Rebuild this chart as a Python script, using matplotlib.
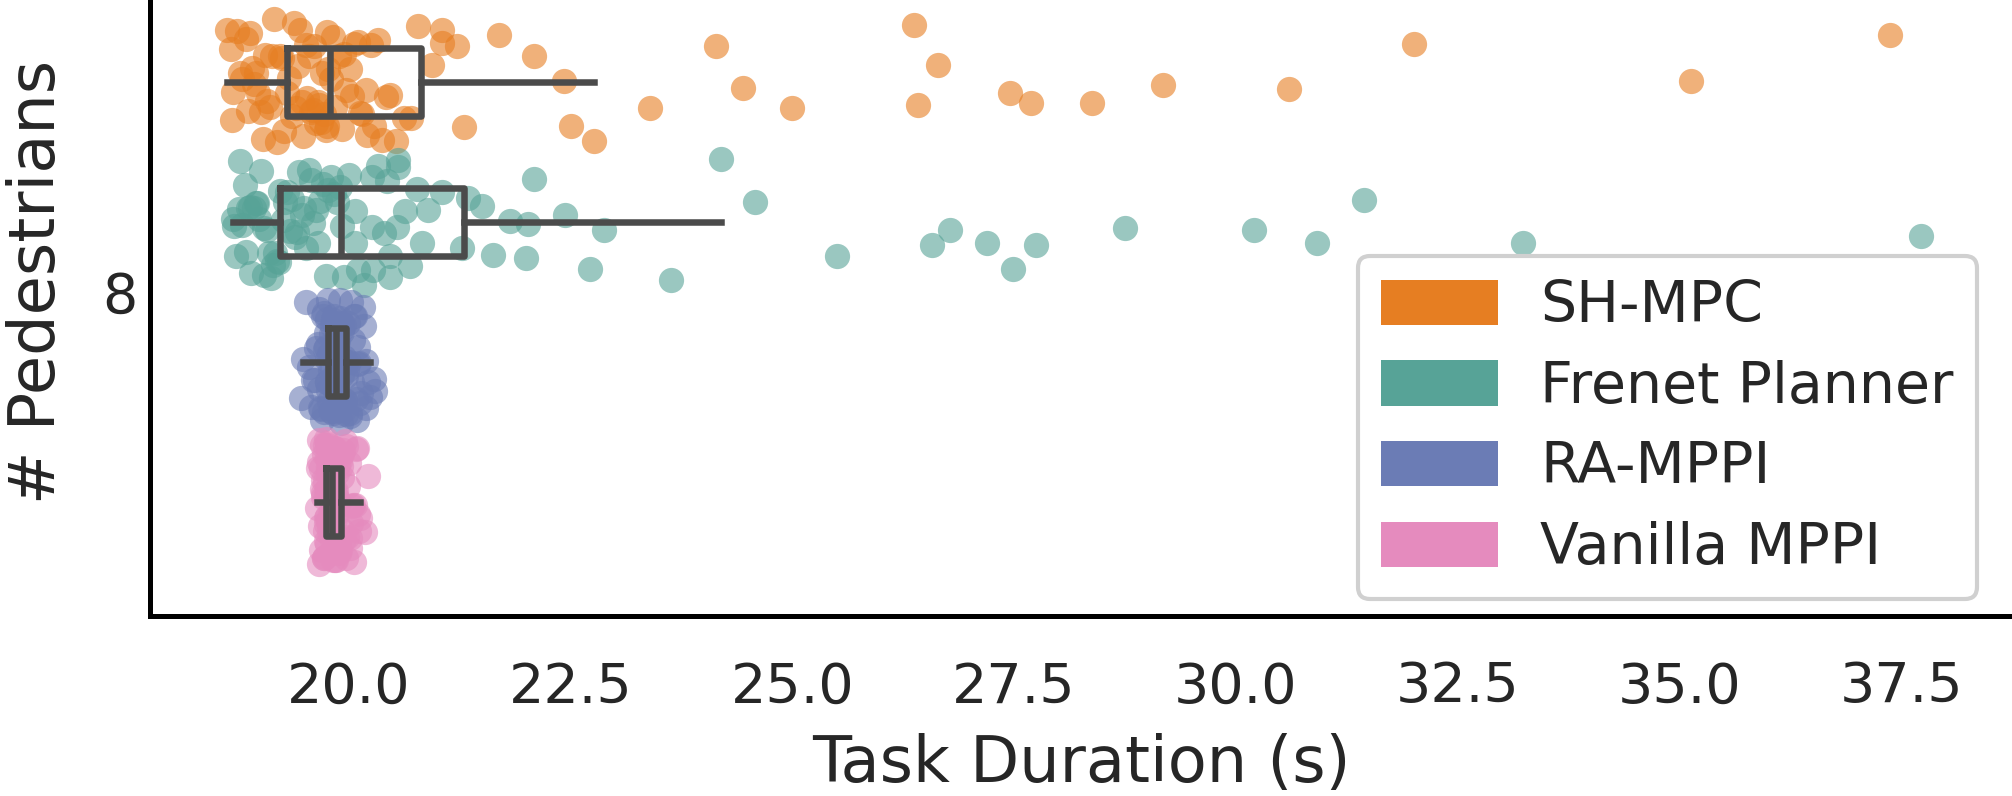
import numpy as np
import matplotlib
matplotlib.use("Agg")
import matplotlib.pyplot as plt
from matplotlib.patches import Patch
from matplotlib.ticker import MultipleLocator, FormatStrFormatter

# ---------------- data ----------------
methods = ["SH-MPC", "Frenet Planner", "RA-MPPI", "Vanilla MPPI"]
category_label = "8"
x_label = "Task Duration (s)"
y_label = "# Pedestrians"

sh_mpc = [18.63, 18.67, 18.69, 18.70, 18.74, 18.77, 18.80, 18.84, 18.86, 18.89,
          18.91, 18.93, 18.95, 18.98, 19.01, 19.03, 19.06, 19.08, 19.11, 19.14,
          19.16, 19.19, 19.22, 19.25, 19.27,
          19.31, 19.33, 19.36, 19.38, 19.41, 19.43, 19.45, 19.47, 19.49, 19.52,
          19.53, 19.55, 19.58, 19.60, 19.61, 19.63, 19.65, 19.67, 19.69, 19.70,
          19.72, 19.74, 19.75, 19.76, 19.77,
          19.80, 19.82, 19.85, 19.89, 19.92, 19.95, 19.97, 20.01, 20.04, 20.06,
          20.10, 20.13, 20.15, 20.19, 20.21, 20.25, 20.29, 20.33, 20.38, 20.42,
          20.46, 20.53, 20.62, 20.70, 20.78,
          20.94, 21.05, 21.05, 21.22, 21.30, 21.69, 22.09, 22.43, 22.51, 22.76,
          23.40, 24.14, 24.45, 25.00, 26.37, 26.42, 26.64, 27.46, 27.69, 28.38,
          29.18, 30.60, 32.01, 35.13, 37.37]

frenet = [18.70, 18.71, 18.73, 18.76, 18.77, 18.80, 18.83, 18.84, 18.87, 18.89,
          18.90, 18.93, 18.95, 18.97, 18.99, 19.01, 19.04, 19.05, 19.08, 19.10,
          19.12, 19.15, 19.17, 19.19, 19.21,
          19.23, 19.26, 19.28, 19.31, 19.34, 19.36, 19.39, 19.42, 19.44, 19.47,
          19.50, 19.52, 19.55, 19.57, 19.60, 19.63, 19.65, 19.68, 19.71, 19.74,
          19.77, 19.80, 19.83, 19.87, 19.90,
          19.93, 19.95, 20.00, 20.07, 20.07, 20.11, 20.17, 20.26, 20.26, 20.27,
          20.33, 20.40, 20.43, 20.46, 20.47, 20.55, 20.56, 20.56, 20.63, 20.69,
          20.77, 20.83, 20.89, 21.05, 21.28,
          21.35, 21.50, 21.63, 21.82, 22.00, 22.02, 22.09, 22.44, 22.72, 22.88,
          23.63, 24.20, 24.58, 25.50, 26.57, 26.78, 27.20, 27.49, 27.75, 28.75,
          30.21, 30.91, 31.44, 33.24, 37.72]

ra_mppi = [19.46, 19.48, 19.52, 19.55, 19.58, 19.60, 19.62, 19.63, 19.65, 19.66,
           19.67, 19.68, 19.69, 19.70, 19.71, 19.72, 19.72, 19.73, 19.74, 19.74,
           19.75, 19.75, 19.76, 19.76, 19.77,
           19.77, 19.78, 19.78, 19.79, 19.79, 19.80, 19.80, 19.81, 19.81, 19.82,
           19.82, 19.82, 19.83, 19.83, 19.84, 19.84, 19.84, 19.85, 19.85, 19.85,
           19.86, 19.86, 19.86, 19.86, 19.86,
           19.86, 19.87, 19.87, 19.88, 19.88, 19.89, 19.89, 19.90, 19.90, 19.91,
           19.91, 19.92, 19.92, 19.93, 19.93, 19.94, 19.94, 19.95, 19.95, 19.95,
           19.96, 19.96, 19.97, 19.97, 19.97,
           19.98, 19.99, 20.00, 20.01, 20.02, 20.03, 20.04, 20.05, 20.06, 20.07,
           20.08, 20.09, 20.10, 20.11, 20.12, 20.13, 20.14, 20.16, 20.17, 20.19,
           20.20, 20.22, 20.24, 20.28, 20.30]

vanilla_mppi = [19.64, 19.65, 19.66, 19.67, 19.67, 19.68, 19.69, 19.69, 19.70, 19.70,
                19.71, 19.71, 19.71, 19.72, 19.72, 19.72, 19.73, 19.73, 19.73, 19.73,
                19.74, 19.74, 19.74, 19.74, 19.74,
                19.75, 19.75, 19.75, 19.76, 19.76, 19.76, 19.77, 19.77, 19.77, 19.77,
                19.78, 19.78, 19.78, 19.78, 19.79, 19.79, 19.79, 19.79, 19.80, 19.80,
                19.80, 19.80, 19.80, 19.81, 19.81,
                19.81, 19.82, 19.82, 19.83, 19.83, 19.83, 19.84, 19.84, 19.85, 19.85,
                19.85, 19.86, 19.86, 19.87, 19.87, 19.87, 19.88, 19.88, 19.89, 19.89,
                19.89, 19.90, 19.90, 19.91, 19.91,
                19.92, 19.93, 19.93, 19.94, 19.95, 19.96, 19.97, 19.97, 19.98, 19.99,
                20.00, 20.01, 20.02, 20.03, 20.04, 20.05, 20.06, 20.07, 20.08, 20.09,
                20.10, 20.12, 20.13, 20.18, 20.22]

groups = [sh_mpc, frenet, ra_mppi, vanilla_mppi]

# ---------------- style ----------------
colors = ["#E67E22", "#57A397", "#6B7CB5", "#E58BBE"]
box_color = "#4B4B4B"
text_color = "#262626"
dodge_pos = [-0.3, -0.1, 0.1, 0.3]
box_width = 0.097
jitter_half = 0.09

plt.rcParams["font.family"] = ["DejaVu Sans"]

fig = plt.figure(figsize=(20.12, 7.96), dpi=100)
ax = fig.add_axes([150 / 2012, 1 - 616 / 796, 1 - 150 / 2012, 616 / 796])

rng = np.random.default_rng(3)
for vals, pos, col in zip(groups, dodge_pos, colors):
    v = np.asarray(vals)
    jit = rng.uniform(-jitter_half, jitter_half, size=v.size)
    ax.scatter(v, pos + jit, s=330, color=col, alpha=0.6, linewidths=0, zorder=2)

lw = 4.7
ax.boxplot(groups, positions=dodge_pos, widths=box_width, orientation="horizontal",
           showfliers=False, showcaps=False, manage_ticks=False, whis=1.5,
           boxprops=dict(color=box_color, linewidth=lw),
           whiskerprops=dict(color=box_color, linewidth=lw),
           medianprops=dict(color=box_color, linewidth=lw),
           zorder=3)

ax.set_xlim(17.76, 38.75)
ax.set_ylim(0.463, -0.417)
ax.set_yticks([0])
ax.set_yticklabels([category_label])
ax.xaxis.set_major_locator(MultipleLocator(2.5))
ax.xaxis.set_major_formatter(FormatStrFormatter("%.1f"))

for side in ("top", "right"):
    ax.spines[side].set_visible(False)
for side in ("left", "bottom"):
    ax.spines[side].set_color("black")
    ax.spines[side].set_linewidth(3.6)

ax.tick_params(axis="both", length=0, labelsize=40, colors=text_color)
ax.tick_params(axis="x", pad=32)
ax.tick_params(axis="y", pad=9)

ax.set_xlabel(x_label, fontsize=46, color=text_color)
ax.set_ylabel(y_label, fontsize=46, color=text_color)
ax.xaxis.set_label_coords(0.5, -0.19)
ax.yaxis.set_label_coords(-0.044, 0.542)

handles = [Patch(facecolor=c, edgecolor="none", label=m) for m, c in zip(methods, colors)]
leg = ax.legend(handles=handles, loc="lower right", bbox_to_anchor=(0.981, 0.028),
                borderaxespad=0, fontsize=41, frameon=True, fancybox=True,
                framealpha=1, edgecolor="#D0D0D0", handlelength=2.05,
                handleheight=0.85, labelspacing=0.45, handletextpad=0.75,
                borderpad=0.4)
leg.get_frame().set_linewidth(3)
for t in leg.get_texts():
    t.set_color(text_color)

fig.savefig("out.png", dpi=100)
